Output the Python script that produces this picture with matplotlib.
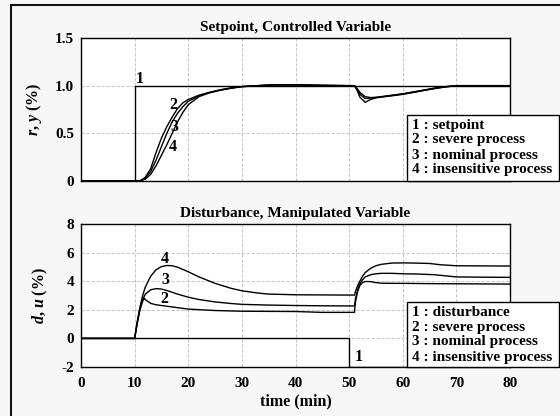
import matplotlib
matplotlib.use("Agg")
import matplotlib.pyplot as plt
from matplotlib.patches import Rectangle

plt.rcParams['font.family'] = ['Liberation Serif', 'DejaVu Serif']
plt.rcParams['font.weight'] = 'bold'
plt.rcParams['axes.unicode_minus'] = False
plt.rcParams['mathtext.fontset'] = 'custom'
plt.rcParams['mathtext.it'] = 'Liberation Serif:italic:bold'
plt.rcParams['mathtext.rm'] = 'Liberation Serif:bold'

# setpoint / controlled variable
t_r = [0, 10, 10, 80]
r = [0, 0, 1, 1]

t_y = [0, 11, 12, 13, 14, 15, 16, 17, 18, 19, 20, 22, 24, 26, 28, 30, 33, 36, 40, 45, 50,
       51, 51.5, 52, 53, 54, 55, 56, 58, 60, 62, 64, 66, 68, 70, 80]
y_severe = [0, 0, 0.04, 0.13, 0.30, 0.45, 0.57, 0.67, 0.76, 0.82, 0.855, 0.90, 0.93, 0.955, 0.975, 0.99, 1.0, 1.008, 1.008, 1.003, 1.0,
            1.0, 0.97, 0.93, 0.885, 0.875, 0.878, 0.885, 0.90, 0.915, 0.935, 0.955, 0.975, 0.99, 1.0, 1.0]
y_nominal = [0, 0, 0.03, 0.10, 0.22, 0.36, 0.50, 0.62, 0.71, 0.78, 0.835, 0.895, 0.93, 0.957, 0.977, 0.99, 1.0, 1.008, 1.008, 1.003, 1.0,
             1.0, 0.96, 0.91, 0.865, 0.87, 0.876, 0.883, 0.897, 0.912, 0.932, 0.952, 0.972, 0.988, 1.0, 1.0]
y_insens = [0, 0, 0.02, 0.07, 0.16, 0.27, 0.38, 0.50, 0.62, 0.72, 0.80, 0.885, 0.925, 0.952, 0.973, 0.99, 1.0, 1.01, 1.01, 1.003, 1.0,
            1.0, 0.95, 0.88, 0.825, 0.855, 0.872, 0.88, 0.894, 0.909, 0.929, 0.95, 0.97, 0.987, 1.0, 1.0]

# disturbance / manipulated variable
t_d = [0, 50, 50, 80]
d = [0, 0, -2, -2]

t_u2 = [0, 10, 10.5, 11, 11.5, 11.8, 12.2, 13, 14, 15, 17, 20, 25, 30, 40, 45, 50, 51,
        51.2, 51.6, 52, 52.5, 53, 54, 55, 56, 58, 60, 65, 70, 80]
u_severe = [0, 0, 1.1, 2.0, 2.6, 2.8, 2.65, 2.45, 2.35, 2.3, 2.2, 2.05, 1.95, 1.9, 1.88, 1.82, 1.82, 1.82,
            2.6, 3.3, 3.7, 3.9, 3.98, 3.97, 3.9, 3.86, 3.85, 3.85, 3.83, 3.82, 3.8]
t_u3 = [0, 10, 10.5, 11, 11.5, 12, 13, 14, 15, 16, 18, 20, 22, 25, 28, 30, 35, 40, 45, 50, 51,
        51.2, 51.6, 52, 52.5, 53, 54, 55, 56, 58, 60, 63, 66, 70, 75, 80]
u_nominal = [0, 0, 1.1, 2.1, 2.7, 3.1, 3.4, 3.48, 3.45, 3.35, 3.1, 2.88, 2.72, 2.55, 2.44, 2.38, 2.33, 2.3, 2.28, 2.27, 2.27,
             2.8, 3.4, 3.8, 4.1, 4.3, 4.45, 4.52, 4.55, 4.55, 4.52, 4.5, 4.45, 4.3, 4.28, 4.27]
t_u4 = [0, 10, 10.5, 11, 11.5, 12, 13, 14, 15, 16, 17, 18, 20, 22, 25, 28, 30, 33, 35, 40, 45, 50, 51,
        51.2, 51.6, 52, 52.5, 53, 54, 55, 56, 58, 60, 62, 65, 67, 70, 75, 80]
u_insens = [0, 0, 1.2, 2.2, 3.0, 3.6, 4.35, 4.8, 5.02, 5.1, 5.08, 4.98, 4.66, 4.3, 3.85, 3.5, 3.33, 3.17, 3.1, 3.05, 3.04, 3.03, 3.03,
            3.3, 3.7, 4.0, 4.35, 4.6, 4.9, 5.08, 5.18, 5.27, 5.28, 5.27, 5.24, 5.15, 5.08, 5.07, 5.06]

legend_top = ["1 : setpoint", "2 : severe process", "3 : nominal process", "4 : insensitive process"]
legend_bot = ["1 : disturbance", "2 : severe process", "3 : nominal process", "4 : insensitive process"]

W, H = 560, 416
B = 'bold'
fig = plt.figure(figsize=(5.6, 4.16), dpi=100)
fig.patch.set_facecolor('#f7f7f7')
fig.patches.append(Rectangle((11 / W, -0.05), 1.1, 1 - 5 / H + 0.05, transform=fig.transFigure,
                             fill=False, edgecolor='#111111', linewidth=1.5))

ax1 = fig.add_axes([81 / W, 1 - 181 / H, 429 / W, 143 / H])
ax2 = fig.add_axes([81 / W, 1 - 367 / H, 429 / W, 143 / H])

lw = 1.0
ax1.plot(t_r, r, color='black', lw=lw)
ax1.plot(t_y, y_severe, color='black', lw=lw)
ax1.plot(t_y, y_nominal, color='black', lw=lw)
ax1.plot(t_y, y_insens, color='black', lw=lw)
ax1.set_ylim(0, 1.5)
ax1.set_yticks([0, 0.5, 1.0, 1.5])
ax1.set_yticklabels(['0', '0.5', '1.0', '1.5'], fontweight=B)
ax1.set_ylabel(r'$r$, $y$ (%)', fontsize=11.5, fontweight=B, labelpad=8)
ax1.set_title('Setpoint, Controlled Variable', fontsize=11, fontweight=B, pad=5)
for txt, x, y in [('1', 11, 1.07), ('2', 17.2, 0.80), ('3', 17.4, 0.57), ('4', 17.2, 0.36)]:
    ax1.text(x, y, txt, fontsize=11.5, fontweight=B, ha='center', va='center')

ax2.plot(t_d, d, color='black', lw=lw)
ax2.plot(t_u2, u_severe, color='black', lw=lw)
ax2.plot(t_u3, u_nominal, color='black', lw=lw)
ax2.plot(t_u4, u_insens, color='black', lw=lw)
ax2.set_ylim(-2, 8)
ax2.set_yticks([-2, 0, 2, 4, 6, 8])
ax2.set_yticklabels(['-2', '0', '2', '4', '6', '8'], fontweight=B)
ax2.set_xlim(0, 80)
ax2.set_xticks(range(0, 81, 10))
ax2.set_xticklabels([str(v) for v in range(0, 81, 10)], fontweight=B)
ax2.set_xlabel('time (min)', fontsize=11.5, fontweight=B, labelpad=3)
ax2.set_ylabel(r'$d$, $u$ (%)', fontsize=11.5, fontweight=B, labelpad=8)
ax2.set_title('Disturbance, Manipulated Variable', fontsize=11, fontweight=B, pad=5)
for txt, x, y in [('4', 15.7, 5.53), ('3', 15.7, 4.08), ('2', 15.5, 2.73), ('1', 51.8, -1.28)]:
    ax2.text(x, y, txt, fontsize=11.5, fontweight=B, ha='center', va='center')

for ax in (ax1, ax2):
    ax.set_xlim(0, 80)
    ax.set_xticks(range(0, 81, 10))
    ax.grid(True, color='#bbbbbb', linestyle=(0, (4, 2)), linewidth=0.6)
    ax.tick_params(length=0, labelsize=11)
    ax.tick_params(axis='y', pad=5)
    ax.tick_params(axis='x', pad=7)
    for s in ax.spines.values():
        s.set_linewidth(1.0)
ax1.tick_params(axis='x', labelbottom=False)

# legend boxes drawn on top of the plot
for (top, bot), lines in [((115, 181), legend_top), ((302, 367), legend_bot)]:
    fig.patches.append(Rectangle((407 / W, 1 - bot / H), (559 - 407) / W, (bot - top) / H,
                                 transform=fig.transFigure, facecolor='white',
                                 edgecolor='black', linewidth=1.0, zorder=5))
    for i, s in enumerate(lines):
        fig.text(412 / W, 1 - (top + 10 + i * 15) / H, s, fontsize=11, fontweight=B,
                 va='center', ha='left', zorder=6)

fig.savefig('out.png', dpi=100, facecolor=fig.get_facecolor())
